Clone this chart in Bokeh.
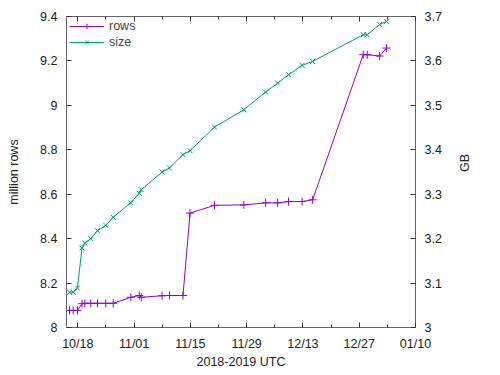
import math
import pandas as pd
from bokeh.plotting import figure
from bokeh.models import (Range1d, LinearAxis, DatetimeAxis, FixedTicker,
                          DatetimeTickFormatter, CustomJSTickFormatter, Legend, LegendItem)
from bokeh.embed import file_html
from bokeh.resources import INLINE

dates = ["2018-10-15 22:30", "2018-10-16 20:30", "2018-10-17 22:00", "2018-10-19 01:00",
         "2018-10-19 18:00", "2018-10-21 05:30", "2018-10-22 21:30", "2018-10-24 23:00",
         "2018-10-26 19:30", "2018-10-31 04:30", "2018-11-02 07:00", "2018-11-02 19:00",
         "2018-11-07 23:00", "2018-11-09 19:00", "2018-11-13 04:00", "2018-11-14 22:00",
         "2018-11-21 00:00", "2018-11-28 07:00", "2018-12-03 17:00", "2018-12-06 17:00",
         "2018-12-09 10:00", "2018-12-12 19:00", "2018-12-15 10:00", "2018-12-28 00:00",
         "2018-12-29 00:00", "2019-01-01 02:00", "2019-01-02 19:00"]
rows_million = [8.077, 8.077, 8.077, 8.107, 8.109, 8.109, 8.109, 8.109, 8.109,
                8.136, 8.144, 8.136, 8.143, 8.144, 8.144, 8.515, 8.550, 8.552,
                8.561, 8.561, 8.567, 8.567, 8.575, 9.228, 9.228, 9.222, 9.258]
size_gb = [3.0795, 3.0795, 3.089, 3.179, 3.190, 3.200, 3.218, 3.230, 3.248,
           3.281, 3.302, 3.310, 3.350, 3.359, 3.389, 3.398, 3.451, 3.490,
           3.530, 3.550, 3.569, 3.590, 3.599, 3.659, 3.659, 3.682, 3.689]
x_tick_dates = ["2018-10-18", "2018-11-01", "2018-11-15", "2018-11-29",
                "2018-12-13", "2018-12-27", "2019-01-10"]
x_minor_dates = ["2018-10-25", "2018-11-08", "2018-11-22", "2018-12-06",
                 "2018-12-20", "2019-01-03"]
y_left_ticks = [8, 8.2, 8.4, 8.6, 8.8, 9, 9.2, 9.4]
y_right_ticks = [3, 3.1, 3.2, 3.3, 3.4, 3.5, 3.6, 3.7]

x = pd.to_datetime(dates)
ms = lambda s: pd.Timestamp(s).value / 1e6
x_start = pd.Timestamp("2018-10-15 04:30")
x_end = pd.Timestamp("2019-01-10")

FONT = "Liberation Sans"
FS = "12.5px"
PURPLE = "#9400d3"
GREEN = "#009e73"

p = figure(width=492, height=375, x_axis_type="datetime", output_backend="svg",
           toolbar_location=None, x_range=Range1d(x_start, x_end),
           y_range=Range1d(8, 9.4),
           min_border_left=66, min_border_right=77, min_border_top=16, min_border_bottom=48)
p.extra_y_ranges = {"gb": Range1d(3, 3.7)}
p.grid.visible = False
p.outline_line_color = "#666666"
p.outline_line_width = 1
p.background_fill_color = "white"
p.border_fill_color = "white"

xticker = FixedTicker(ticks=[ms(d) for d in x_tick_dates],
                      minor_ticks=[ms(d) for d in x_minor_dates])
fmt = DatetimeTickFormatter(days="%m/%d", months="%m/%d", years="%m/%d",
                            hours="%m/%d", minutes="%m/%d", seconds="%m/%d",
                            milliseconds="%m/%d", microseconds="%m/%d",
                            minsec="%m/%d", hourmin="%m/%d")
numfmt = CustomJSTickFormatter(code="return String(Math.round(tick*10)/10);")
blankfmt = CustomJSTickFormatter(code="return '';")

def style(ax):
    ax.axis_line_color = None
    ax.major_tick_in = 5
    ax.major_tick_out = 0
    ax.minor_tick_in = 3
    ax.minor_tick_out = 0
    ax.major_tick_line_color = "#333333"
    ax.minor_tick_line_color = "#333333"
    ax.major_label_text_font = FONT
    ax.major_label_text_font_size = FS
    ax.major_label_text_color = "#222222"
    ax.axis_label_text_font = FONT
    ax.axis_label_text_font_size = FS
    ax.axis_label_text_font_style = "normal"
    ax.axis_label_text_color = "#222222"

xa = p.xaxis[0]
xa.ticker = xticker
xa.formatter = fmt
xa.axis_label = "2018-2019 UTC"
style(xa)
xa.major_label_standoff = 9
xa.axis_label_standoff = 1

ya = p.yaxis[0]
ya.ticker = FixedTicker(ticks=y_left_ticks)
ya.formatter = numfmt
ya.axis_label = "million rows"
style(ya)
ya.major_label_standoff = 9
ya.axis_label_standoff = 16
ya.minor_tick_in = 0

ra = LinearAxis(y_range_name="gb", ticker=FixedTicker(ticks=y_right_ticks),
                formatter=numfmt, axis_label="GB")
style(ra)
ra.major_label_standoff = 9
ra.axis_label_standoff = 20
ra.minor_tick_in = 0
try:
    ra.axis_label_orientation = math.pi / 2
except Exception:
    pass
p.add_layout(ra, "right")

ta = DatetimeAxis(ticker=xticker, formatter=blankfmt)
style(ta)
ta.major_label_text_font_size = "1px"
ta.major_label_standoff = 0
p.add_layout(ta, "above")

r1l = p.line(x, rows_million, line_color=PURPLE, line_width=1)
r1m = p.scatter(x, rows_million, marker="cross", size=8, line_color=PURPLE, line_width=1)
r2l = p.line(x, size_gb, line_color=GREEN, line_width=1, y_range_name="gb")
r2m = p.scatter(x, size_gb, marker="x", size=7, line_color=GREEN, line_width=1, y_range_name="gb")

legend = Legend(items=[LegendItem(label="rows", renderers=[r1l, r1m]),
                       LegendItem(label="size", renderers=[r2l, r2m])],
                location="top_left", border_line_color=None, background_fill_alpha=0,
                label_text_font=FONT, label_text_font_size=FS, glyph_width=35,
                spacing=2, padding=2, margin=3, label_height=14, glyph_height=14)
p.add_layout(legend)

open("out.html", "w").write(file_html(p, INLINE))
